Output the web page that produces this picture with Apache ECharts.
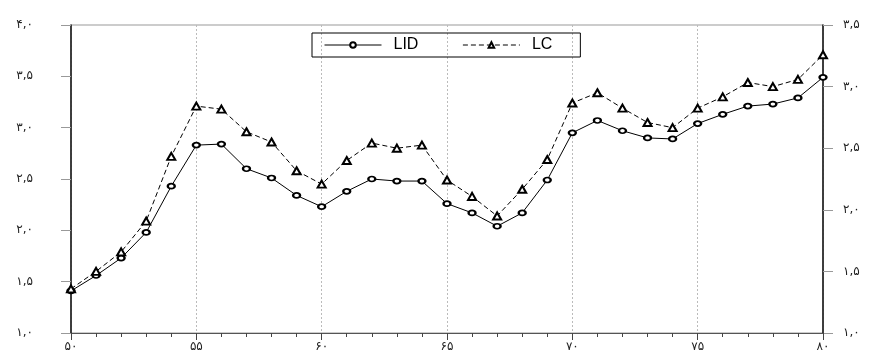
<!DOCTYPE html>
<html>
<head>
<meta charset="utf-8">
<script src="https://cdn.jsdelivr.net/npm/echarts@6/dist/echarts.min.js"></script>
<style>
  html, body { margin: 0; padding: 0; background: #fff; }
  #chart { width: 869px; height: 353px; }
</style>
</head>
<body>
<div id="chart"></div>
<script>
// years 50..80
const years = [50, 51, 52, 53, 54, 55, 56, 57, 58, 59, 60, 61, 62, 63, 64, 65,
  66, 67, 68, 69, 70, 71, 72, 73, 74, 75, 76, 77, 78, 79, 80];

const lid = [1.41, 1.56, 1.73, 1.98, 2.43, 2.83, 2.84, 2.60, 2.51, 2.34, 2.23,
  2.38, 2.50, 2.48, 2.48, 2.26, 2.17, 2.04, 2.17, 2.49, 2.95,
  3.07, 2.97, 2.90, 2.89, 3.04, 3.13, 3.21, 3.23, 3.29, 3.49];

const lc = [1.43, 1.60, 1.79, 2.09, 2.72, 3.21, 3.18, 2.96, 2.86, 2.58, 2.45,
  2.68, 2.85, 2.80, 2.83, 2.49, 2.33, 2.14, 2.40, 2.69, 3.24,
  3.34, 3.19, 3.05, 3.00, 3.19, 3.30, 3.44, 3.40, 3.47, 3.71];

const seriesNames = ["LID", "LC"];

const faDigits = "۰۱۲۳۴۵۶۷۸۹";
const toFa = (s) => String(s).replace(/\d/g, (d) => faDigits[d]);
const yLabel = (v) => toFa(v.toFixed(1).replace(".", ","));

const chart = echarts.init(document.getElementById("chart"));

const labelFont = {
  color: "#222",
  fontSize: 12,
  fontFamily: "DejaVu Sans",
};

chart.setOption({
  animation: false,
  grid: {
    left: 71,
    right: 46,
    top: 25,
    bottom: 20,
    show: true,
    borderColor: "#999",
    borderWidth: 1,
  },
  legend: {
    data: seriesNames,
    left: 312,
    top: 33,
    orient: "horizontal",
    borderColor: "#000",
    borderWidth: 1,
    borderRadius: 0,
    padding: [4, 28, 4, 12],
    itemWidth: 57,
    itemHeight: 7,
    itemGap: 44,
    lineStyle: { width: 1 },
    textStyle: {
      fontFamily: "Liberation Sans",
      fontSize: 16,
      color: "#000",
      padding: [0, 0, 0, 7],
    },
  },
  xAxis: {
    type: "value",
    min: 50,
    max: 80,
    interval: 5,
    axisLine: { onZero: false, lineStyle: { color: "#555", width: 1 } },
    axisTick: { show: true, length: 7, lineStyle: { color: "#444" } },
    minorTick: { show: true, splitNumber: 5, length: 4, lineStyle: { color: "#444" } },
    axisLabel: {
      margin: 8,
      ...labelFont,
      formatter: (v) => toFa(v),
    },
    splitLine: {
      show: true,
      lineStyle: { color: "#bbb", type: [2, 2], width: 1 },
    },
  },
  yAxis: [
    {
      type: "value",
      position: "left",
      min: 1,
      max: 4,
      interval: 0.5,
      axisLine: { show: true, onZero: false, lineStyle: { color: "#111", width: 1.5 } },
      axisTick: { show: true, length: 10, lineStyle: { color: "#999" } },
      axisLabel: { margin: 38, ...labelFont, formatter: yLabel },
      splitLine: { show: false },
    },
    {
      type: "value",
      position: "right",
      min: 1,
      max: 3.5,
      interval: 0.5,
      axisLine: { show: true, onZero: false, lineStyle: { color: "#111", width: 1.5 } },
      axisTick: { show: true, length: 10, lineStyle: { color: "#999" } },
      axisLabel: { margin: 20, ...labelFont, formatter: yLabel },
      splitLine: { show: false },
    },
  ],
  series: [
    {
      name: "LID",
      type: "line",
      yAxisIndex: 0,
      data: years.map((y, i) => [y, lid[i]]),
      symbol: "emptyCircle",
      symbolSize: [7, 5],
      itemStyle: { color: "#000", borderColor: "#000", borderWidth: 1 },
      lineStyle: { color: "#000", width: 1, type: "solid" },
    },
    {
      name: "LC",
      type: "line",
      yAxisIndex: 0,
      data: years.map((y, i) => [y, lc[i]]),
      symbol: "emptyTriangle",
      symbolSize: [8, 7],
      itemStyle: { color: "#000", borderColor: "#000", borderWidth: 1 },
      lineStyle: { color: "#000", width: 1, type: [5, 3] },
    },
  ],
});
</script>
</body>
</html>
